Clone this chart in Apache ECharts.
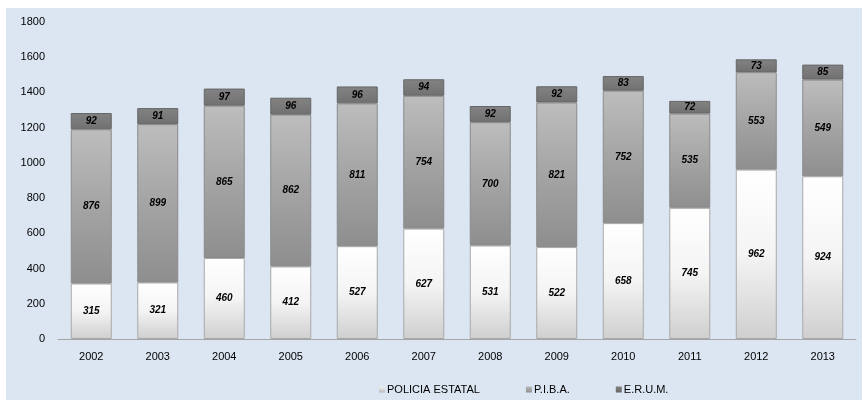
<!DOCTYPE html>
<html><head><meta charset="utf-8">
<script src="https://cdn.jsdelivr.net/npm/echarts@6/dist/echarts.min.js"></script>
<style>html,body{margin:0;padding:0;background:#fff}#c{width:862px;height:400px}</style>
</head><body><div id="c"></div>
<script>
var years = ['2002','2003','2004','2005','2006','2007','2008','2009','2010','2011','2012','2013'];
var policiaEstatal = [315,321,460,412,527,627,531,522,658,745,962,924];
var piba = [876,899,865,862,811,754,700,821,752,535,553,549];
var erum = [92,91,97,96,96,94,92,92,83,72,73,85];
var yTicks = {min:0, max:1800, interval:200};

function vgrad(a,b,c){
  return {type:'linear',x:0,y:0,x2:0,y2:1,colorStops:[{offset:0,color:a},{offset:0.5,color:b},{offset:1,color:c}]};
}
var lbl = {show:true,position:'inside',fontFamily:'Liberation Sans, Arial',fontSize:10,fontWeight:'bold',fontStyle:'italic',color:'#000'};
var chart = echarts.init(document.getElementById('c'));
chart.setOption({
  backgroundColor:'#ffffff',
  animation:false,
  graphic:[{type:'rect',z:-10,shape:{x:6,y:8,width:856,height:392},style:{fill:'#dce6f2'}}],
  grid:{left:58,right:6,top:22,bottom:61},
  legend:{left:374,top:379,itemWidth:6,itemHeight:6,itemGap:46,icon:'rect',
    textStyle:{fontFamily:'Liberation Sans, Arial',fontSize:11,color:'#000',padding:[0,0,0,-3]},
    data:[
      {name:'POLICIA ESTATAL',itemStyle:{color:vgrad('#eeeeee','#d8d8d8','#b8b8b8'),borderWidth:0}},
      {name:'P.I.B.A.',itemStyle:{color:vgrad('#b8b8b8','#a4a4a4','#909090'),borderWidth:0}},
      {name:'E.R.U.M.',itemStyle:{color:vgrad('#808080','#767676','#666666'),borderWidth:0}}
    ]},
  xAxis:{type:'category',data:years,
    axisLine:{lineStyle:{color:'#a6a6a6'}},axisTick:{show:false},
    axisLabel:{color:'#000',fontFamily:'Liberation Sans, Arial',fontSize:11,margin:12}},
  yAxis:{type:'value',min:yTicks.min,max:yTicks.max,interval:yTicks.interval,
    splitLine:{show:false},axisLine:{show:false},axisTick:{show:false},
    axisLabel:{color:'#000',fontFamily:'Liberation Sans, Arial',fontSize:11,margin:13,formatter:function(v){return String(v);}}},
  series:[
    {name:'POLICIA ESTATAL',type:'bar',stack:'t',data:policiaEstatal,barWidth:41,label:lbl,
      itemStyle:{color:vgrad('#ffffff','#f4f4f4','#cfcfcf'),borderColor:'#a8a8a8',borderWidth:1}},
    {name:'P.I.B.A.',type:'bar',stack:'t',data:piba,label:lbl,
      itemStyle:{color:vgrad('#bdbdbd','#a4a4a4','#8e8e8e'),borderColor:'#8a8a8a',borderWidth:1}},
    {name:'E.R.U.M.',type:'bar',stack:'t',data:erum,label:lbl,
      itemStyle:{color:vgrad('#828282','#7a7a7a','#707070'),borderColor:'#666666',borderWidth:1}}
  ]
});
</script></body></html>
